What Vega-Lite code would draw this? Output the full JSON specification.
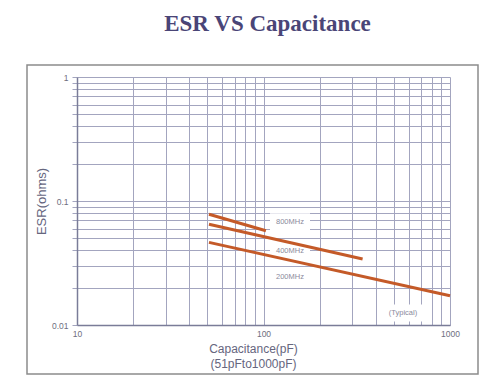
{
  "$schema": "https://vega.github.io/schema/vega-lite/v6.json",
  "width": 451,
  "height": 309,
  "autosize": {"type": "none"},
  "padding": {"left": 27, "top": 65, "right": 23, "bottom": 14},
  "background": "white",
  "title": {"text": "ESR VS Capacitance", "font": "Liberation Serif", "fontSize": 23, "fontWeight": "bold", "color": "#4a4577", "anchor": "middle", "dx": 15, "offset": 29},
  "config": {"view": {"stroke": "#8c8c8c", "strokeWidth": 1.5}, "font": "Liberation Sans"},
  "datasets": {
    "curves": [
      {"series": "800MHz", "cap": 51, "esr": 0.0781},
      {"series": "800MHz", "cap": 103, "esr": 0.0576},
      {"series": "400MHz", "cap": 51, "esr": 0.0649},
      {"series": "400MHz", "cap": 340, "esr": 0.0341},
      {"series": "200MHz", "cap": 51, "esr": 0.0464},
      {"series": "200MHz", "cap": 1000, "esr": 0.01723}
    ],
    "labels": [
      {"text": "800MHz", "cap": 138.7, "esr": 0.068},
      {"text": "400MHz", "cap": 138.7, "esr": 0.0395},
      {"text": "200MHz", "cap": 138.7, "esr": 0.0245},
      {"text": "(Typical)", "cap": 560, "esr": 0.0125}
    ]
  },
  "encoding": {
    "y": {
      "field": "esr", "type": "quantitative",
      "scale": {"type": "log", "domain": [0.01, 1], "range": [260, 12], "nice": false},
      "axis": {
        "values": [0.01, 0.02, 0.03, 0.04, 0.05, 0.06, 0.07, 0.08, 0.09, 0.1, 0.2, 0.3, 0.4, 0.5, 0.6, 0.7, 0.8, 0.9, 1],
        "format": "~g",
        "labelExpr": "indexof([0.01, 0.1, 1], datum.value) >= 0 ? datum.label : ''",
        "labelOverlap": false, "labelFlush": false,
        "grid": true, "gridColor": "#a3a5bf", "gridWidth": 1,
        "domainColor": "#7a7c98", "domainWidth": 1.5,
        "ticks": true, "tickSize": 5, "tickColor": "#a3a5bf",
        "labelFontSize": 8.5, "labelColor": "#6e6e80", "labelPadding": 4,
        "offset": -50,
        "title": "ESR(ohms)",
        "titleFontSize": 13, "titleFontWeight": "normal", "titleColor": "#66667e",
        "titlePadding": 3
      }
    }
  },
  "layer": [
    {
      "data": {"name": "labels"},
      "mark": {"type": "point", "shape": "M-1,-0.42L1,-0.42L1,0.42L-1,0.42Z", "size": 1600, "filled": true, "color": "white", "opacity": 1, "strokeWidth": 0},
      "encoding": {
        "x": {
          "field": "cap", "type": "quantitative",
          "scale": {"type": "log", "domain": [10, 1000], "range": [50, 423], "nice": false},
          "axis": {
            "orient": "top",
            "values": [10, 20, 30, 40, 50, 60, 70, 80, 90, 100, 200, 300, 400, 500, 600, 700, 800, 900, 1000],
            "grid": true, "gridColor": "#a3a5bf", "gridWidth": 1,
            "domain": false, "ticks": false, "labels": false, "title": null
          }
        }
      }
    },
    {
      "data": {"name": "curves"},
      "mark": {"type": "line", "color": "#c45a28", "strokeWidth": 3},
      "encoding": {
        "x": {
          "field": "cap", "type": "quantitative",
          "scale": {"type": "log", "domain": [10, 1000], "range": [50, 423], "nice": false},
          "axis": {
            "orient": "bottom",
            "values": [10, 100, 1000],
            "format": "~g",
            "labelOverlap": false, "labelFlush": false,
            "grid": false,
            "domainColor": "#7a7c98", "domainWidth": 1.5,
            "ticks": false,
            "labelFontSize": 8.5, "labelColor": "#6e6e80", "labelPadding": 4,
            "offset": -49,
            "title": ["Capacitance(pF)", "(51pFto1000pF)"],
            "titleFontSize": 12, "titleFontWeight": "normal", "titleColor": "#66667e",
            "titleLineHeight": 15, "titlePadding": 6, "titleX": 226
          }
        },
        "detail": {"field": "series"}
      }
    },
    {
      "data": {"name": "labels"},
      "mark": {"type": "text", "fontSize": 7.5, "color": "#8a8a9c", "align": "center", "baseline": "middle"},
      "encoding": {
        "x": {"field": "cap", "type": "quantitative", "axis": null},
        "text": {"field": "text"}
      }
    }
  ],
  "resolve": {"axis": {"x": "independent"}}
}
